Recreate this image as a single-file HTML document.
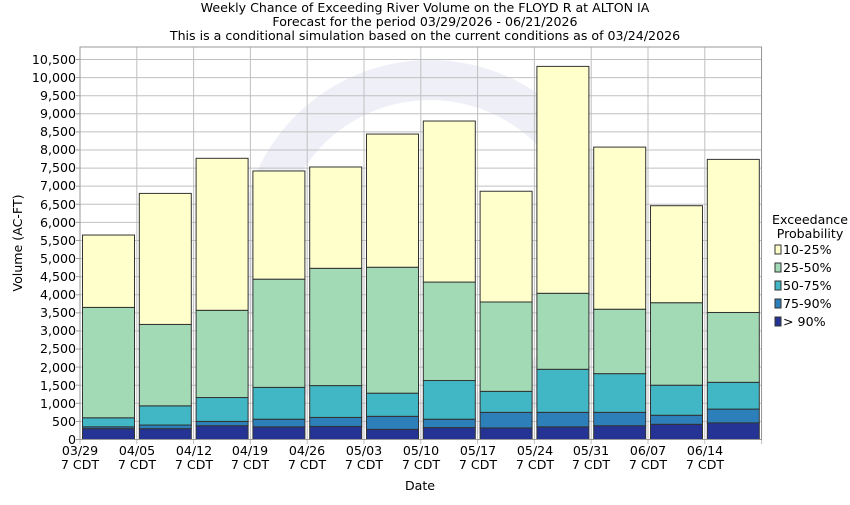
<!DOCTYPE html>
<html><head><meta charset="utf-8"><style>
body{margin:0;background:#fff}
svg text{font-family:"DejaVu Sans","Liberation Sans",sans-serif;font-size:12.6px;fill:#000}
</style></head><body>
<svg id="s" width="850" height="500" xmlns="http://www.w3.org/2000/svg">
<rect width="850" height="500" fill="#fff"/>
<g id="wm" opacity="0.07"><circle cx="430" cy="250" r="190" fill="#2a3fa0"/><circle cx="430" cy="250" r="150" fill="#fff"/></g>
<g id="grid" stroke="#c0c0c0" stroke-width="1"></g>
<g id="bars" stroke="#333" stroke-width="1"></g>
<rect x="80" y="47" width="681.5" height="392.5" fill="none" stroke="#999"/>
<text x="425" y="12" text-anchor="middle">Weekly Chance of Exceeding River Volume on the FLOYD R at ALTON IA</text>
<text x="425" y="26" text-anchor="middle">Forecast for the period 03/29/2026 - 06/21/2026</text>
<text x="425" y="40" text-anchor="middle">This is a conditional simulation based on the current conditions as of 03/24/2026</text>
<g text-anchor="end">
<text x="76" y="444">0</text><text x="76" y="426">500</text><text x="76" y="408">1,000</text><text x="76" y="390">1,500</text><text x="76" y="372">2,000</text><text x="76" y="353">2,500</text><text x="76" y="335">3,000</text><text x="76" y="317">3,500</text><text x="76" y="299">4,000</text><text x="76" y="281">4,500</text><text x="76" y="263">5,000</text><text x="76" y="245">5,500</text><text x="76" y="227">6,000</text><text x="76" y="209">6,500</text><text x="76" y="190">7,000</text><text x="76" y="172">7,500</text><text x="76" y="154">8,000</text><text x="76" y="136">8,500</text><text x="76" y="118">9,000</text><text x="76" y="100">9,500</text><text x="76" y="82">10,000</text><text x="76" y="64">10,500</text>
</g>
<g text-anchor="middle">
<text x="80" y="455">03/29</text><text x="80" y="469">7 CDT</text>
<text x="137" y="455">04/05</text><text x="137" y="469">7 CDT</text>
<text x="194" y="455">04/12</text><text x="194" y="469">7 CDT</text>
<text x="250" y="455">04/19</text><text x="250" y="469">7 CDT</text>
<text x="307" y="455">04/26</text><text x="307" y="469">7 CDT</text>
<text x="364" y="455">05/03</text><text x="364" y="469">7 CDT</text>
<text x="421" y="455">05/10</text><text x="421" y="469">7 CDT</text>
<text x="478" y="455">05/17</text><text x="478" y="469">7 CDT</text>
<text x="535" y="455">05/24</text><text x="535" y="469">7 CDT</text>
<text x="591" y="455">05/31</text><text x="591" y="469">7 CDT</text>
<text x="648" y="455">06/07</text><text x="648" y="469">7 CDT</text>
<text x="705" y="455">06/14</text><text x="705" y="469">7 CDT</text>
<text x="420" y="490">Date</text>
</g>
<text transform="translate(22,243) rotate(-90)" text-anchor="middle">Volume (AC-FT)</text>
<g>
<text x="810" y="224" text-anchor="middle">Exceedance</text>
<text x="810" y="238" text-anchor="middle">Probability</text>
<rect x="775" y="245" width="6" height="9" fill="#ffffcc" stroke="#333"/><text x="783" y="254">10-25%</text>
<rect x="775" y="263" width="6" height="9" fill="#a1dab4" stroke="#333"/><text x="783" y="272">25-50%</text>
<rect x="775" y="281" width="6" height="9" fill="#41b6c4" stroke="#333"/><text x="783" y="290">50-75%</text>
<rect x="775" y="299" width="6" height="9" fill="#2c7fb8" stroke="#333"/><text x="783" y="308">75-90%</text>
<rect x="775" y="317" width="6" height="9" fill="#253494" stroke="#333"/><text x="783" y="326">&gt; 90%</text>
</g>
</svg>
<script>
var NS="http://www.w3.org/2000/svg";
function y(v){return 439.5-v*0.03619;}
var g=document.getElementById("grid");
for(var v=500;v<=10500;v+=500){var l=document.createElementNS(NS,"line");l.setAttribute("x1",80);l.setAttribute("x2",761.5);l.setAttribute("y1",y(v));l.setAttribute("y2",y(v));g.appendChild(l);}
for(var i=0;i<=12;i++){var x=80+i*56.8;var l=document.createElementNS(NS,"line");l.setAttribute("x1",x);l.setAttribute("x2",x);l.setAttribute("y1",47);l.setAttribute("y2",444);g.appendChild(l);}
for(var v=0;v<=10500;v+=500){var t=document.createElementNS(NS,"line");t.setAttribute("x1",76);t.setAttribute("x2",80);t.setAttribute("y1",y(v));t.setAttribute("y2",y(v));t.setAttribute("stroke","#999");g.appendChild(t);}
var d=[[300,350,600,3650,5650],[300,400,930,3180,6800],[380,500,1160,3570,7770],[350,560,1440,4430,7420],[360,610,1490,4730,7530],[280,640,1280,4760,8440],[330,560,1630,4350,8800],[320,750,1330,3800,6860],[350,750,1940,4040,10310],[380,750,1820,3600,8080],[420,670,1500,3780,6460],[460,840,1580,3510,7740]];
var c=["#253494","#2c7fb8","#41b6c4","#a1dab4","#ffffcc"];
var b=document.getElementById("bars");
d.forEach(function(r,i){var x=80+i*56.8+2.5;var prev=0;r.forEach(function(v,k){var rc=document.createElementNS(NS,"rect");rc.setAttribute("x",x);rc.setAttribute("width",52);rc.setAttribute("y",y(v));rc.setAttribute("height",y(prev)-y(v));rc.setAttribute("fill",c[k]);b.appendChild(rc);prev=v;});});
</script>
</body></html>
